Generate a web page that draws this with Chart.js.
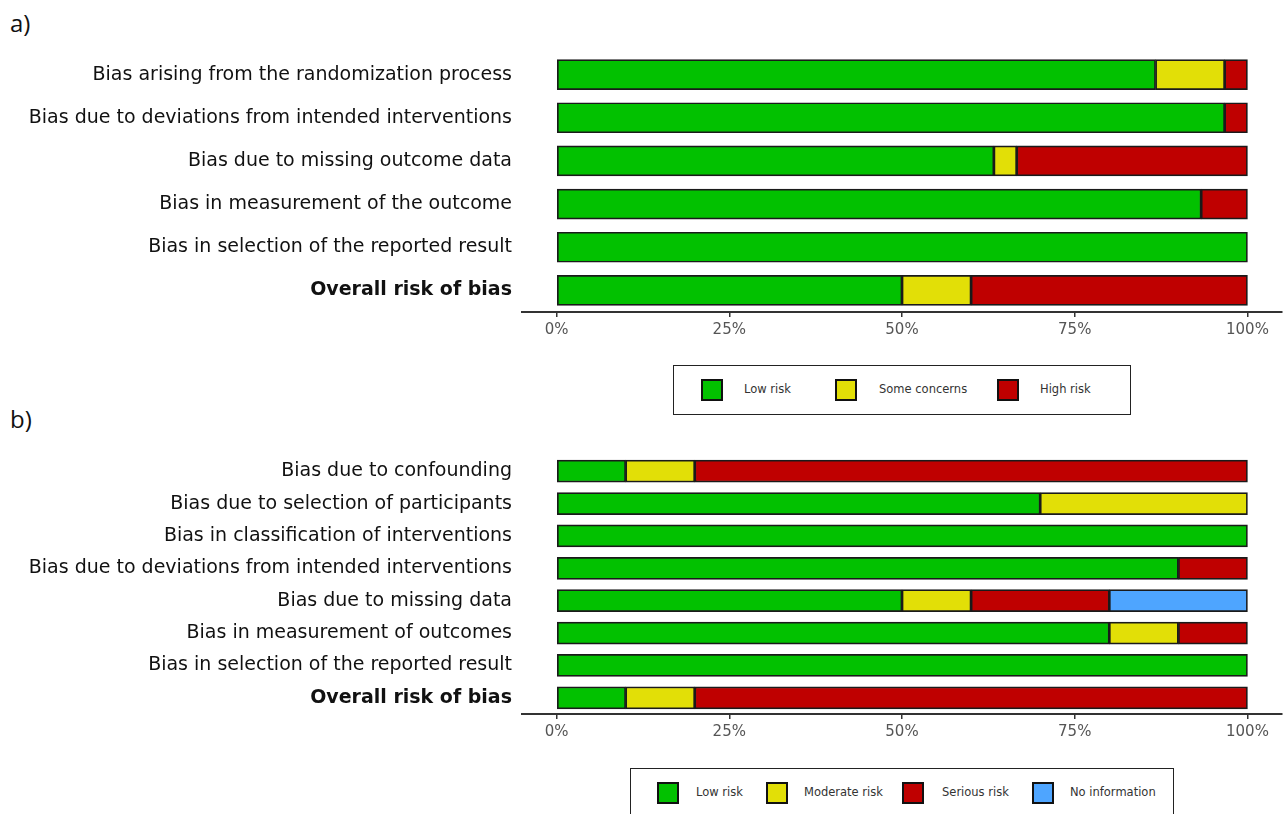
<!DOCTYPE html>
<html>
<head>
<meta charset="utf-8">
<title>Risk of bias summary</title>
<script src="https://cdn.jsdelivr.net/npm/chart.js@4.4.1/dist/chart.umd.min.js"></script>
<style>
  body { margin: 0; background: #fff; width: 1285px; height: 814px; overflow: hidden; position: relative; }
  .tag { position: absolute; left: 10px; font: 24px "Open Sans", sans-serif; color: #111; }
  canvas { position: absolute; left: 0; }
  .legend { position: absolute; border: 1.5px solid #222; background: #fff; box-sizing: border-box; }
  .legend .sw { position: absolute; width: 22px; height: 22px; border: 2px solid #111; box-sizing: border-box; }
  .legend .txt { position: absolute; font: 11.5px "DejaVu Sans", sans-serif; color: #333; white-space: nowrap; }
</style>
</head>
<body>
<div class="tag" style="top:6px">a)</div>
<div class="tag" style="top:402px">b)</div>
<canvas id="robA" width="1285" height="350" style="top:0"></canvas>
<canvas id="robB" width="1285" height="350" style="top:402px"></canvas>
<div class="legend" id="legA" style="left:673px; top:365px; width:458px; height:50px"></div>
<div class="legend" id="legB" style="left:630px; top:768px; width:544px; height:60px"></div>
<script>
// a) RoB 2 domains (randomised trials)
const domainsA = [
  'Bias arising from the randomization process',
  'Bias due to deviations from intended interventions',
  'Bias due to missing outcome data',
  'Bias in measurement of the outcome',
  'Bias in selection of the reported result',
  'Overall risk of bias'
];
const lowA  = [86.7, 96.7, 63.3, 93.3, 100, 50];
const someA = [10, 0, 3.3, 0, 0, 10];
const highA = [3.3, 3.3, 33.4, 6.7, 0, 40];

// b) ROBINS-I domains (non-randomised studies)
const domainsB = [
  'Bias due to confounding',
  'Bias due to selection of participants',
  'Bias in classification of interventions',
  'Bias due to deviations from intended interventions',
  'Bias due to missing data',
  'Bias in measurement of outcomes',
  'Bias in selection of the reported result',
  'Overall risk of bias'
];
const lowB      = [10, 70, 100, 90, 50, 80, 100, 10];
const moderateB = [10, 30, 0, 0, 10, 10, 0, 10];
const seriousB  = [80, 0, 0, 10, 20, 10, 0, 80];
const noInfoB   = [0, 0, 0, 0, 20, 0, 0, 0];

const xTicks = [0, 25, 50, 75, 100];

const GREEN = '#02C100', YELLOW = '#E2DF07', RED = '#BF0000', BLUE = '#4EA5FF';

function series(label, data, color) {
  return {
    label: label,
    data: data,
    backgroundColor: color,
    borderColor: '#1a1a1a',
    borderWidth: 1.7,
    borderSkipped: false
  };
}

function makeChart(id, labels, datasets, thickness) {
  const last = labels.length - 1;
  return new Chart(document.getElementById(id), {
    type: 'bar',
    data: { labels: labels, datasets: datasets },
    options: {
      indexAxis: 'y',
      responsive: false,
      animation: false,
      barThickness: thickness,
      layout: { padding: { top: 53, right: 3, left: 0, bottom: 0 } },
      plugins: { legend: { display: false }, tooltip: { enabled: false } },
      scales: {
        x: {
          type: 'linear',
          stacked: true,
          min: -5,
          max: 105,
          afterBuildTicks: (axis) => { axis.ticks = xTicks.map(v => ({ value: v })); },
          afterFit: (axis) => { axis.height = 38; },
          grid: { drawOnChartArea: false, drawTicks: true, tickLength: 5, color: '#333', lineWidth: 1.5 },
          border: { display: true, color: '#333', width: 2 },
          ticks: {
            callback: v => v + '%',
            color: '#555',
            padding: 4,
            maxRotation: 0,
            font: { family: 'DejaVu Sans', size: 15 }
          }
        },
        y: {
          stacked: true,
          offset: true,
          afterFit: (axis) => { axis.width = 522; },
          grid: { display: false, drawTicks: false },
          border: { display: false },
          ticks: {
            color: '#111',
            padding: 10,
            font: (ctx) => ({ family: 'DejaVu Sans', size: 19, weight: ctx.index === last ? 'bold' : 'normal' })
          }
        }
      }
    }
  });
}

makeChart('robA', domainsA, [
  series('Low risk', lowA, GREEN),
  series('Some concerns', someA, YELLOW),
  series('High risk', highA, RED)
], 30);

makeChart('robB', domainsB, [
  series('Low risk', lowB, GREEN),
  series('Moderate risk', moderateB, YELLOW),
  series('Serious risk', seriousB, RED),
  series('No information', noInfoB, BLUE)
], 22);

// legend boxes under each panel
function legend(id, items) {
  const box = document.getElementById(id);
  items.forEach(([text, color, swX, txtX]) => {
    const sw = document.createElement('div');
    sw.className = 'sw';
    sw.style.cssText = `left:${swX}px; top:13px; background:${color}`;
    const t = document.createElement('div');
    t.className = 'txt';
    t.style.cssText = `left:${txtX}px; top:16px`;
    t.textContent = text;
    box.appendChild(sw);
    box.appendChild(t);
  });
}

legend('legA', [
  ['Low risk', GREEN, 27, 70],
  ['Some concerns', YELLOW, 161, 205],
  ['High risk', RED, 323, 366]
]);
legend('legB', [
  ['Low risk', GREEN, 26, 65],
  ['Moderate risk', YELLOW, 135, 173],
  ['Serious risk', RED, 271, 311],
  ['No information', BLUE, 401, 439]
]);
</script>
</body>
</html>
